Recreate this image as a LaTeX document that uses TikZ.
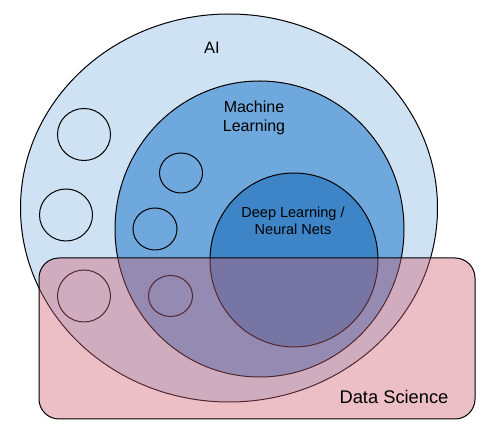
\documentclass[tikz,border=0pt]{standalone}
\usepackage{fontspec}
\setmainfont{Liberation Sans}
\usetikzlibrary{shapes.geometric}
\definecolor{aiblue}{HTML}{CFE2F3}
\definecolor{mlblue}{HTML}{6FA8DC}
\definecolor{dlblue}{HTML}{3D85C6}
\definecolor{dsred}{RGB}{208,95,115}
\tikzset{
  region/.style={ellipse, draw=black, line width=1pt, inner sep=0pt},
  blob/.style={ellipse, draw=black, line width=1pt, inner sep=0pt},
  dsbox/.style={draw=black, line width=1pt, fill=dsred, fill opacity=0.4, rounded corners=20pt},
  label/.style={align=center, text=black, inner sep=0pt}
}
\begin{document}
\begin{tikzpicture}[x=1pt, y=-1pt]
\useasboundingbox (0,0) rectangle (488,435);
% outer AI region
\node[region, fill=aiblue, minimum width=417pt, minimum height=388pt] (ai) at (229,208) {};
\node[blob, minimum width=53pt, minimum height=52pt] (a1) at (84,134.5) {};
\node[blob, minimum width=53pt, minimum height=52pt] (a2) at (66,215) {};
\node[blob, minimum width=53pt, minimum height=52pt] (a3) at (84,296) {};
% machine learning region
\node[region, fill=mlblue, minimum width=289pt, minimum height=296pt] (ml) at (259.5,229) {};
\node[blob, minimum width=43pt, minimum height=40pt] (m1) at (181,173) {};
\node[blob, minimum width=44pt, minimum height=42pt] (m2) at (155,229) {};
\node[blob, minimum width=44pt, minimum height=41pt] (m3) at (170.5,296) {};
% deep learning region
\node[region, fill=dlblue, minimum width=168pt, minimum height=174pt] (dl) at (294,260) {};
% labels
\node[label, font=\fontsize{16.5}{19}\selectfont] (ailbl) at (212,48) {AI};
\node[label, font=\fontsize{16}{19}\selectfont] (mllbl) at (254,117.5) {Machine\\Learning};
\node[label, font=\fontsize{14.5}{17}\selectfont] (dllbl) at (293,220.5) {Deep Learning /\\Neural Nets};
% data science overlay
\path[dsbox] (39,258) rectangle (475,419);
\node[label, font=\fontsize{18.3}{21}\selectfont] (dslbl) at (394,397) {Data Science};
\end{tikzpicture}
\end{document}
